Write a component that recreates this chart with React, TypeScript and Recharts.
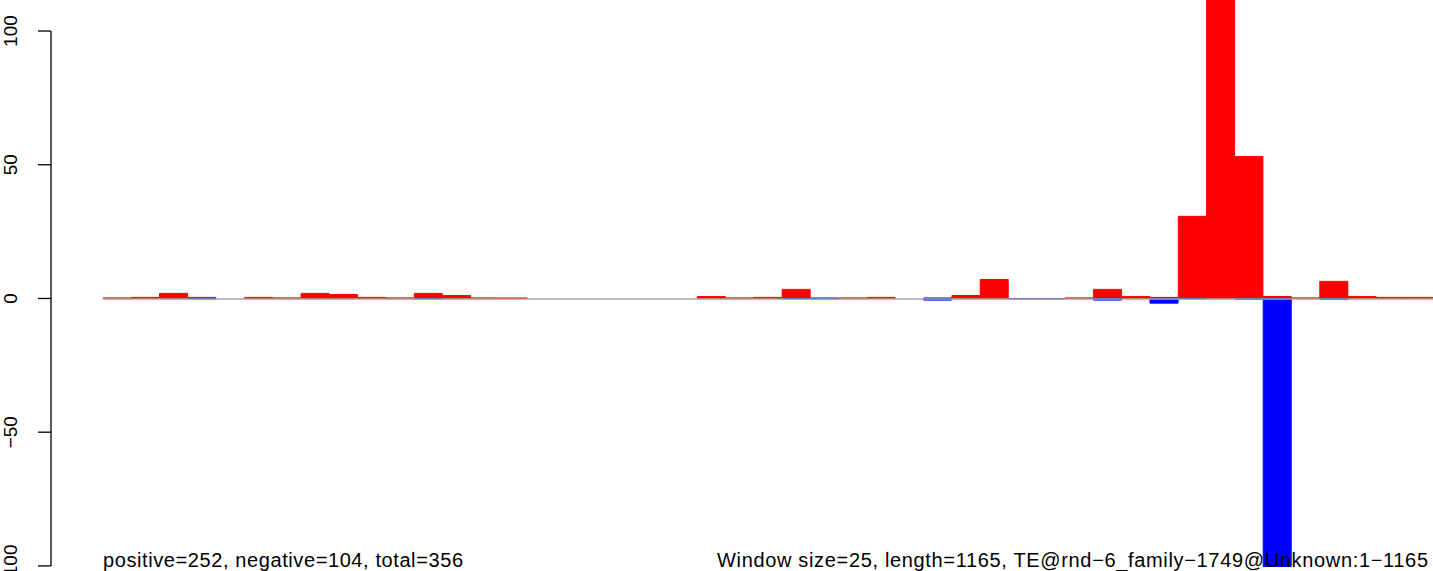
import { BarChart, Bar, XAxis, YAxis, ReferenceLine } from "recharts"

// window start positions (window size 25, length 1165)
const windowStarts = [
  1, 26, 51, 76, 101, 126, 151, 176, 201, 226, 251, 276, 301, 326, 351, 376,
  401, 426, 451, 476, 501, 526, 551, 576, 601, 626, 651, 676, 701, 726, 751,
  776, 801, 826, 851, 876, 901, 926, 951, 976, 1001, 1026, 1051, 1076, 1101,
  1126, 1151,
]

const positive = [
  0.2, 0.4, 1.9, 0.4, 0, 0.4, 0.2, 1.9, 1.5, 0.4, 0.2, 1.9, 1.1, 0.2, 0.2, 0,
  0, 0, 0, 0, 0, 0.75, 0.2, 0.4, 3.4, 0.2, 0.2, 0.4, 0, 0.2, 1.1,
  7.1, 0, 0, 0.2, 3.4, 0.75, 0.4, 30.7, 122, 53.1, 0.75, 0.2, 6.4, 0.75,
  0.4, 0.4,
]

const negative = [
  0, 0, 0, -0.15, 0, 0, 0, 0, 0, 0, 0, -0.15, 0, 0, 0, 0,
  0, 0, 0, 0, 0, 0, 0, 0, -0.15, -0.15, 0, 0, 0, -0.6, 0,
  0, -0.15, -0.15, 0, -0.6, 0, -1.75, -0.15, 0, -0.3, -100.2, 0, -0.4, 0,
  0, 0,
]

const yTicks = [-100, -50, 0, 50, 100]

const leftNote = "positive=252, negative=104, total=356"
const rightNote =
  "Window size=25, length=1165, TE@rnd\u22126_family\u22121749@Unknown:1\u22121165"

const data = windowStarts.map((start, i) => ({
  start,
  pos: positive[i],
  neg: negative[i],
}))

const FONT = "'Liberation Sans', Arial, Helvetica, sans-serif"
const AXIS_X = 51
const PLOT_LEFT = 103
const PLOT_RIGHT = 1433

function YTick(props: any) {
  const { y, payload } = props
  const label = String(payload.value).replace("-", "\u2212")
  return (
    <g>
      {payload.value === 0 && (
        // zero baseline, drawn under the bars
        <line x1={PLOT_LEFT} y1={y + 0.5} x2={PLOT_RIGHT} y2={y + 0.5} stroke="#a6a6a6" strokeWidth={1.5} />
      )}
      <line x1={38} y1={y} x2={AXIS_X} y2={y} stroke="#000" strokeWidth={1.3} />
      <text
        x={17}
        y={y}
        transform={`rotate(-90, 17, ${y})`}
        textAnchor="middle"
        fontFamily={FONT}
        fontSize={19}
        fill="#000"
      >
        {label}
      </text>
    </g>
  )
}

export default function App() {
  return (
    <div style={{ position: "absolute", left: 0, top: 0, width: 1433, height: 571, background: "#fff" }}>
      <BarChart
        width={1433}
        height={571}
        data={data}
        margin={{ top: 0, right: 0, bottom: 0, left: 0 }}
        barCategoryGap={0}
        barGap={0}
        stackOffset="sign"
      >
        <XAxis dataKey="start" hide />
        <YAxis
          domain={[-101.9, 111.6]}
          allowDataOverflow
          ticks={yTicks}
          interval={0}
          width={103}
          axisLine={false}
          tickLine={false}
          tick={<YTick />}
        />
        <ReferenceLine
          segment={[
            { x: windowStarts[0], y: 100 },
            { x: windowStarts[0], y: -100 },
          ]}
          shape={(p: any) => (
            <line x1={AXIS_X} y1={p.y1} x2={AXIS_X} y2={p.y2} stroke="#000" strokeWidth={1.3} />
          )}
        />
        <Bar dataKey="pos" stackId="s" fill="#ff0000" stroke="#ff0000" strokeWidth={1} isAnimationActive={false} />
        <Bar dataKey="neg" stackId="s" fill="#0000ff" stroke="#0000ff" strokeWidth={1} isAnimationActive={false} />
      </BarChart>
      <svg
        width={1433}
        height={571}
        style={{ position: "absolute", left: 0, top: 0, pointerEvents: "none" }}
      >
        <text
          x={103}
          y={567}
          fontFamily={FONT}
          fontSize={20}
          fill="#000"
          textLength={360}
          lengthAdjust="spacing"
        >
          {leftNote}
        </text>
        <text
          x={717}
          y={567}
          fontFamily={FONT}
          fontSize={20}
          fill="#000"
          textLength={711}
          lengthAdjust="spacing"
        >
          {rightNote}
        </text>
      </svg>
    </div>
  )
}
